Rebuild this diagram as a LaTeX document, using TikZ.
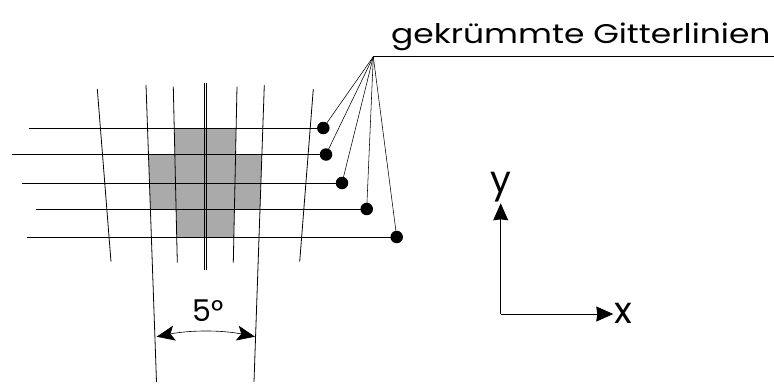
\documentclass[tikz,border=0pt]{standalone}
\usepackage{fontspec}
\setmainfont{Poppins}
\newfontfamily\widefont[FakeStretch=1.22]{Poppins}
\usetikzlibrary{arrows.meta}
\definecolor{cellgray}{RGB}{170,170,170}
\begin{document}
\begin{tikzpicture}[x=1pt,y=-1pt,
  grid/.style={line width=0.8pt,black},
  fan/.style={line width=0.55pt,black},
  dot/.style={circle,fill=black,inner sep=0pt,minimum size=12.5pt},
  lbl/.style={inner sep=0pt,font=\fontsize{37}{40}\selectfont},
  axis/.style={line width=0.8pt,-{Stealth[length=17pt,width=15pt,inset=1pt]}},
  anglearrow/.style={line width=0.6pt,{Stealth[length=18pt,width=15pt,inset=4pt]}-{Stealth[length=18pt,width=15pt,inset=4pt]}}]
\useasboundingbox (0,0) rectangle (774,383);
% gray cells
\fill[cellgray] (174.24,128) -- (236.13,128) -- (235.58,154.5) -- (261.89,154.5)
  -- (260.0,209) -- (234.43,209) -- (233.84,237) -- (176.72,237) -- (176.08,209)
  -- (150.38,209) -- (148.46,154.5) -- (174.84,154.5) -- cycle;
% vertical (tilted) grid lines
\draw[grid] (97.3,89) -- (111,261.7);
\draw[grid] (146,85) -- (156.5,382);
\draw[grid] (173.3,86.7) -- (177.3,262.7);
\draw[grid] (204,83) -- (204,270);
\draw[grid] (206.2,83) -- (206.2,270);
\draw[grid] (237,86.7) -- (233.3,262.7);
\draw[grid] (264.3,85) -- (254,382);
\draw[grid] (313.3,89) -- (299.7,261.7);
% dots
\node[dot] (d1) at (323.3,128) {};
\node[dot] (d2) at (326,154.5) {};
\node[dot] (d3) at (342,183) {};
\node[dot] (d4) at (366.7,209) {};
\node[dot] (d5) at (396.7,237) {};
% horizontal grid lines
\coordinate (h1) at (29,128);
\coordinate (h2) at (12,154.5);
\coordinate (h3) at (22,183);
\coordinate (h4) at (36,209);
\coordinate (h5) at (27,237);
\foreach \i in {1,...,5} \draw[grid] (h\i) -- (d\i.center);
% fan to label
\coordinate (apex) at (373.3,56.7);
\coordinate (lend) at (774,56.7);
\draw[fan] (lend) -- (apex);
\foreach \i in {1,...,5} \draw[fan] (apex) -- (d\i.center);
\node[anchor=base west,inner sep=0pt,font=\widefont\fontsize{27}{29}\selectfont] (title) at (391,43) {gekrümmte Gitterlinien};
% angle
\coordinate (aL) at (156.7,336.7);
\coordinate (aR) at (255,336.7);
\draw[anglearrow] (aL) .. controls (190,330) and (222,330) .. (aR);
\node[anchor=base west,inner sep=0pt,font=\fontsize{30}{32}\selectfont] (deg) at (192,321.7) {5°};
% axes
\coordinate (o) at (500.7,314);
\coordinate (ytip) at (500.7,203.3);
\coordinate (xtip) at (613.3,314);
\draw[axis] (o) -- (ytip);
\draw[axis] (o) -- (xtip);
\node[anchor=base,lbl] (ylab) at (501,192) {y};
\node[anchor=west,lbl] (xlab) at (614,313) {x};
\end{tikzpicture}
\end{document}
